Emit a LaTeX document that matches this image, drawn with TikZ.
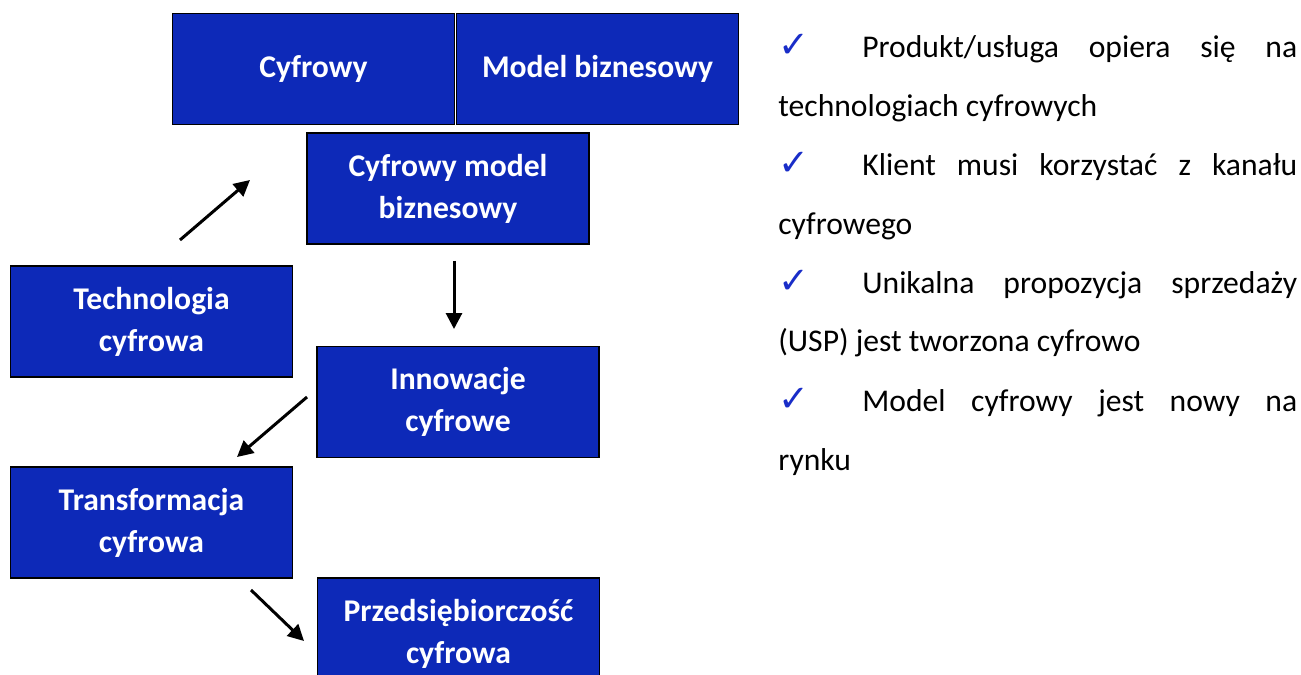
\documentclass[tikz,border=0pt]{standalone}
\usepackage{fontspec}
\setmainfont{Carlito}
\newfontfamily\symfont{DejaVu Sans}
\usetikzlibrary{arrows.meta}

\definecolor{boxblue}{RGB}{13,41,184}
\definecolor{tickblue}{RGB}{25,45,200}

\newcommand{\tick}{{\symfont\color{tickblue}\fontsize{21}{21}\selectfont ✓}}

\begin{document}
\begin{tikzpicture}[x=0.02cm, y=-0.02cm, >={Triangle[length=0.32cm,width=0.32cm]},
  blok/.style={draw=black, line width=0.9pt, fill=boxblue, text=white, inner sep=0pt,
    minimum width=5.64cm, minimum height=2.22cm, align=center,
    font=\bfseries\fontsize{18}{23.8}\selectfont},
  punkt/.style={anchor=base west, inner sep=0pt, font=\fontsize{18}{33.5}\selectfont},
  strz/.style={->, line width=1.7pt}]

% ----------------------------
% FRAME
% ----------------------------
\useasboundingbox (0,0) rectangle (1301,675);

% ----------------------------
% BOXES
% ----------------------------
\node[blok] (cyf) at (313.5,69) {Cyfrowy};
\node[blok] (mod) at (597.5,69) {Model biznesowy};
\node[blok] (cmb) at (448,188.5) {Cyfrowy model\\biznesowy};
\node[blok] (tech) at (151.5,321.5) {Technologia\\cyfrowa};
\node[blok] (inno) at (458,402) {Innowacje\\cyfrowe};
\node[blok] (trans) at (151.5,522.5) {Transformacja\\cyfrowa};
\node[blok] (przed) at (458.5,633.5) {Przedsiębiorczość\\cyfrowa};

% ----------------------------
% ARROW ENDS
% ----------------------------
\coordinate (a1) at (180,240);  \coordinate (b1) at (250,180);
\coordinate (a2) at (454,261);  \coordinate (b2) at (454,329);
\coordinate (a3) at (307,397);  \coordinate (b3) at (237,457);
\coordinate (a4) at (251,590);  \coordinate (b4) at (304,641);

\draw[strz] (a1) -- (b1);
\draw[strz] (a2) -- (b2);
\draw[strz] (a3) -- (b3);
\draw[strz] (a4) -- (b4);

% ----------------------------
% LIST ON THE RIGHT
% ----------------------------
\node[punkt] (p1) at (778,58) {\makebox[1.68cm][l]{\tick}\makebox[8.7cm][s]{Produkt/usługa opiera się na}};
\node[punkt] (p2) at (778,117) {technologiach cyfrowych};
\node[punkt] (p3) at (778,176) {\makebox[1.68cm][l]{\tick}\makebox[8.7cm][s]{Klient musi korzystać z kanału}};
\node[punkt] (p4) at (778,235) {cyfrowego};
\node[punkt] (p5) at (778,294) {\makebox[1.68cm][l]{\tick}\makebox[8.7cm][s]{Unikalna propozycja sprzedaży}};
\node[punkt] (p6) at (778,352) {(USP) jest tworzona cyfrowo};
\node[punkt] (p7) at (778,411) {\makebox[1.68cm][l]{\tick}\makebox[8.7cm][s]{Model cyfrowy jest nowy na}};
\node[punkt] (p8) at (778,470) {rynku};

\end{tikzpicture}
\end{document}
